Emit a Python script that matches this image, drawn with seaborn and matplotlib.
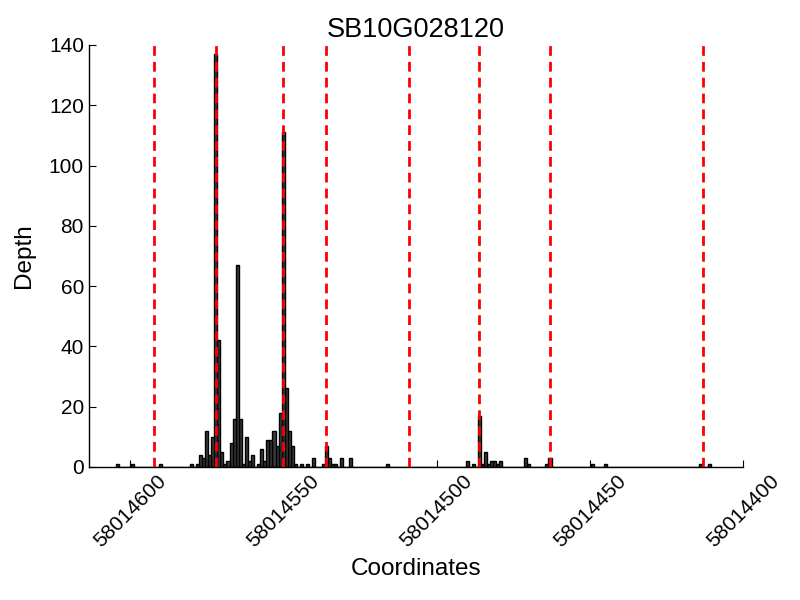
import matplotlib
matplotlib.use("Agg")
import matplotlib.pyplot as plt
import seaborn as sns
import numpy as np
import pandas as pd

# ---- data ----
coords = [58014604, 58014599, 58014590,
          58014580, 58014579, 58014578, 58014577, 58014576, 58014575, 58014574,
          58014573, 58014572, 58014571, 58014570, 58014569, 58014568, 58014567,
          58014566, 58014565, 58014564, 58014563, 58014562, 58014561, 58014560,
          58014559, 58014558, 58014557, 58014556, 58014555, 58014554, 58014553,
          58014552, 58014551, 58014550, 58014549, 58014548, 58014547, 58014546,
          58014545, 58014544, 58014543, 58014542, 58014541, 58014540,
          58014537, 58014536, 58014535, 58014534, 58014533, 58014531, 58014528,
          58014516,
          58014490, 58014488, 58014486, 58014485, 58014484, 58014483, 58014482,
          58014481, 58014480, 58014479, 58014471, 58014470, 58014464, 58014463,
          58014449, 58014445, 58014414, 58014411]
depths = [1, 1, 1,
          1, 0, 1, 4, 3, 12, 4,
          10, 137, 42, 5, 1, 2, 8,
          16, 67, 16, 1, 10, 2, 4,
          0, 1, 6, 2, 9, 9, 12,
          7, 18, 111, 26, 12, 7, 1,
          0, 1, 0, 1, 0, 3,
          1, 7, 3, 1, 1, 3, 3,
          1,
          2, 1, 17, 1, 5, 1, 2,
          2, 1, 2, 3, 1, 1, 3,
          1, 1, 1, 1]
boundaries = [58014592, 58014572, 58014550, 58014536, 58014509,
              58014486, 58014463, 58014413]
xtick_values = [58014600, 58014550, 58014500, 58014450, 58014400]
xtick_labels = ["58014600", "58014550", "58014500", "58014450", "58014400"]
ytick_values = [0, 20, 40, 60, 80, 100, 120, 140]
title = "SB10G028120"

df = pd.DataFrame({"coord": coords, "depth": depths})

sns.set_style("white")
plt.rcParams["font.family"] = ["Liberation Sans", "DejaVu Sans"]
plt.rcParams["text.color"] = "black"
plt.rcParams["axes.labelcolor"] = "black"
plt.rcParams["xtick.color"] = "black"
plt.rcParams["ytick.color"] = "black"

fig = plt.figure(figsize=(8, 6), dpi=100)
ax = fig.add_axes([0.111, 0.222, 0.818, 0.703])

sns.histplot(data=df, x="coord", weights="depth", discrete=True, ax=ax,
             color="#3a3a3a", edgecolor="black", linewidth=1.0, alpha=1.0)

for b in boundaries:
    ax.axvline(b, color="red", linestyle=(0, (3.5, 2.2)), linewidth=2.0, zorder=5)

ax.set_xlim(58014613.4, 58014400)
ax.set_ylim(0, 140)
ax.set_xticks(xtick_values)
ax.set_xticklabels(xtick_labels, rotation=45, ha="center", fontsize=15)
ax.set_yticks(ytick_values)
ax.set_yticklabels([str(v) for v in ytick_values], fontsize=15)
ax.tick_params(direction="in", length=5, width=0.8, colors="black",
               top=False, right=False, bottom=True, left=True)

for s in ["top", "right"]:
    ax.spines[s].set_visible(False)
for s in ["left", "bottom"]:
    ax.spines[s].set_color("black")
    ax.spines[s].set_linewidth(1.0)

ax.set_xlabel("Coordinates", fontsize=17.5, color="black", labelpad=5)
ax.set_ylabel("Depth", fontsize=17.5, color="black", labelpad=10)
ax.set_title(title, fontsize=19.5, color="black")

fig.savefig("out.png", dpi=100)
